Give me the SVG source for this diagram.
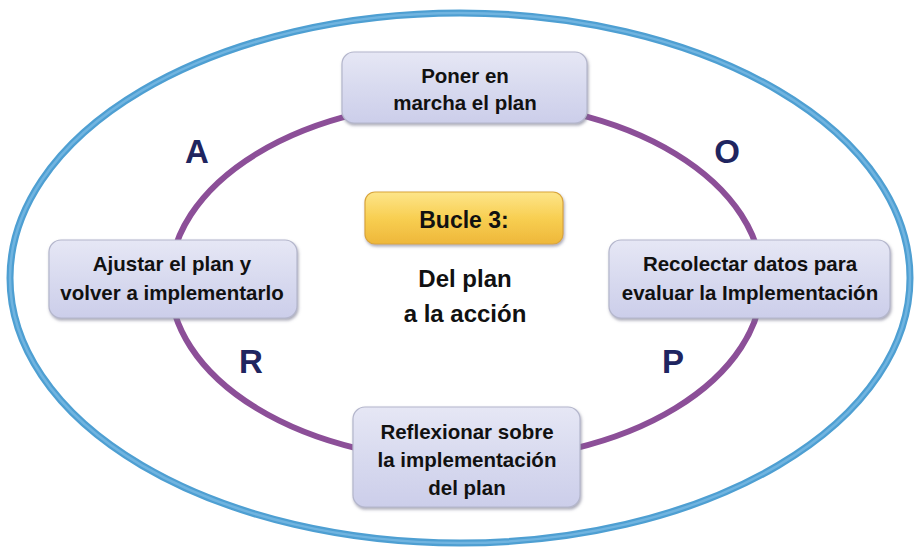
<svg xmlns="http://www.w3.org/2000/svg" width="916" height="550" viewBox="0 0 916 550">
<defs>
<linearGradient id="nodeFill" x1="0" y1="0" x2="0" y2="1">
<stop offset="0" stop-color="#e6e7f5"/>
<stop offset="0.5" stop-color="#d8daef"/>
<stop offset="1" stop-color="#ccceea"/>
</linearGradient>
<linearGradient id="goldFill" x1="0" y1="0" x2="0" y2="1">
<stop offset="0" stop-color="#fde58a"/>
<stop offset="0.5" stop-color="#f8cf52"/>
<stop offset="1" stop-color="#eeb73a"/>
</linearGradient>
<filter id="shadow" x="-10%" y="-10%" width="120%" height="130%">
<feDropShadow dx="1" dy="2" stdDeviation="1.5" flood-color="#6f7088" flood-opacity="0.6"/>
</filter>
<style>
.node{fill:url(#nodeFill);stroke:#b4b6cc;stroke-width:1.2;filter:url(#shadow)}
.gold{fill:url(#goldFill);stroke:#d9a53a;stroke-width:1.2;filter:url(#shadow)}
.t{font-family:"Liberation Sans",Arial,sans-serif;font-weight:bold;font-size:20.5px;fill:#111;text-anchor:middle}
.big{font-size:24px}
.letter{font-family:"Liberation Sans",Arial,sans-serif;font-weight:bold;font-size:33px;fill:#1f2560;text-anchor:middle}
</style>
</defs>
<rect width="916" height="550" fill="#ffffff"/>
<g id="connectors">
<ellipse id="outer" cx="460" cy="278" rx="450" ry="265" fill="none" stroke="#4e9fd2" stroke-width="7"/>
<ellipse cx="460" cy="278" rx="450" ry="265" fill="none" stroke="#79b9e3" stroke-width="2.5" stroke-opacity="0.8"/>
<ellipse id="loop" cx="466" cy="281" rx="296" ry="180" fill="none" stroke="#8c4f98" stroke-width="6"/>
</g>
<g id="node-top">
<rect class="node" x="342" y="52" width="245" height="71" rx="12"/>
<text class="t" x="465" y="83">Poner en</text>
<text class="t" x="465" y="110">marcha el plan</text>
</g>
<g id="node-left">
<rect class="node" x="49" y="240" width="248" height="78" rx="12"/>
<text class="t" x="172" y="271">Ajustar el plan y</text>
<text class="t" x="172" y="300">volver a implementarlo</text>
</g>
<g id="node-right">
<rect class="node" x="609" y="240" width="281" height="78" rx="12"/>
<text class="t" x="750" y="271">Recolectar datos para</text>
<text class="t" x="750" y="300">evaluar la Implementación</text>
</g>
<g id="node-bottom">
<rect class="node" x="353" y="407" width="227" height="100" rx="12"/>
<text class="t" x="467" y="439">Reflexionar sobre</text>
<text class="t" x="467" y="467">la implementación</text>
<text class="t" x="467" y="495">del plan</text>
</g>
<g id="node-center">
<rect class="gold" x="365" y="192" width="198" height="52" rx="10"/>
<text class="t" x="464" y="228" style="font-size:23px">Bucle 3:</text>
<text class="t big" x="465" y="287">Del plan</text>
<text class="t big" x="465" y="322">a la acción</text>
</g>
<g id="labels">
<text class="letter" x="197" y="163">A</text>
<text class="letter" x="727" y="163">O</text>
<text class="letter" x="251" y="373">R</text>
<text class="letter" x="673" y="373">P</text>
</g>
</svg>
